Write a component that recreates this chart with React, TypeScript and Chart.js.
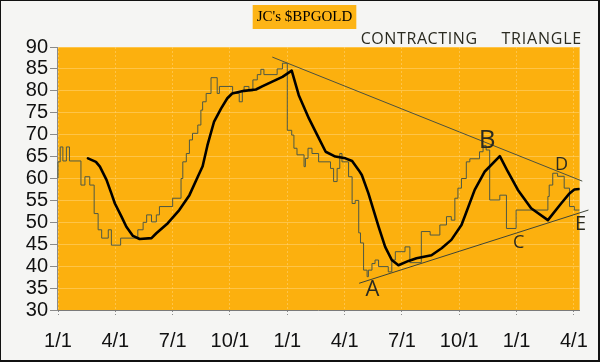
import React, { useEffect, useRef } from 'react';
import { Chart, registerables } from 'chart.js';

Chart.register(...registerables);

// ---- data ----
const titleText = "JC's $BPGOLD";
const tickWeeks = [0, 13, 26, 39, 52, 65, 78, 91, 104, 117];
const tickLabels = ['1/1', '4/1', '7/1', '10/1', '1/1', '4/1', '7/1', '10/1', '1/1', '4/1'];

// weekly step series (x = weeks since first 1/1)
const stepWeeks = [
  0, 0.5, 1.1, 1.9, 2.6, 5.2, 6.1, 7.2, 8.2, 9.1, 9.9, 11.4, 12.1, 14.2, 18.1, 19.3, 20.1, 21.2,
  22.3, 23.0, 26.0, 27.9, 28.3, 29.1, 29.8, 30.5, 31.7, 32.4, 32.8, 33.6, 34.7, 36.1, 36.6, 39.6,
  41.1, 41.8, 42.2, 43.3, 44.2, 45.2, 46.0, 46.7, 49.7, 50.9, 52.0, 53.0, 53.5, 54.2, 55.8, 56.1,
  56.7, 57.6, 59.1, 61.8, 62.5, 63.3, 63.9, 64.4, 65.9, 66.7, 67.4, 68.2, 68.6, 69.3, 70.1, 70.4,
  71.2, 71.9, 72.7, 74.9, 75.7, 76.5, 78.7, 79.8, 82.4, 84.4, 86.6, 88.1, 89.2, 90.0, 90.7, 91.5,
  92.6, 93.4, 95.6, 96.4, 97.1, 97.9, 100.2, 101.7, 103.9, 111.1, 111.4, 112.2, 113.3, 114.8,
  116.0, 117.1, 117.8, 118.3,
];
const stepValues = [
  60.1, 63.8, 67.2, 64, 67.2, 64, 58.5, 60.4, 58.5, 52, 48.3, 46.4, 48.3, 44.8, 46.4, 48.3, 50, 51.7,
  50.1, 51.7, 53.6, 55.5, 60, 63.8, 65.7, 68.8, 70.3, 72.2, 75.6, 77.5, 79.4, 83, 79.4, 81,
  79.4, 77.5, 80, 81, 80, 82.5, 83.7, 84.9, 83.7, 85, 86.3, 71, 69.9, 66.9, 65.4, 62.7,
  64.6, 66.9, 65.7, 63.8, 62.3, 59.3, 62.3, 65.7, 63.8, 60.4, 54.3, 55, 47.6, 45.3, 39.1, 37.6,
  39.1, 40.6, 41.4, 39.9, 38.7, 41.4, 43.3, 44.4, 40.8, 47.9, 47.1, 49.4, 51.3, 50.5, 55.5, 57.8,
  60, 63.8, 64.5, 66.1, 67.5, 66.5, 55.1, 56.2, 48.6, 52.8, 55.9, 58.5, 61.2, 60.5,
  57.8, 53.6, 52.8, 52.8,
];

// moving average
const maWeeks = [
  6.8, 8.6, 9.5, 11.0, 12.1, 12.9, 14.4, 15.5, 17.0, 18.5, 21.2, 22.3, 24.9, 27.5, 29.8, 31.7, 32.8,
  33.9, 35.4, 37.0, 38.4, 39.5, 42.2, 44.9, 46.3, 48.6, 50.9, 53.0, 54.6, 56.9, 58.8, 60.7, 62.9,
  65.2, 66.7, 68.2, 68.9, 70.4, 72.7, 74.2, 75.7, 77.2, 79.5, 81.3, 84.7, 87.0, 89.2, 91.5, 92.3,
  94.5, 96.8, 100.2, 102.0, 104.3, 107.3, 111.1, 114.1, 116.0, 117.1, 118.2,
];
const maValues = [
  64.6, 63.8, 62.7, 59.7, 56.6, 54.3, 51.3, 49, 46.9, 46.2, 46.4, 47.5, 49.8, 52.8, 56.2, 60.4, 62.8,
  67.6, 73, 76, 78.3, 79.4, 80, 80.3, 81, 82.1, 83.2, 84.6, 79, 73.7, 69.9, 66.1, 65,
  64.6, 64, 61.9, 60.8, 56.6, 49, 44.4, 41.4, 40.2, 41.2, 41.8, 42.5, 44.1, 46, 49.4, 51.5,
  57.4, 61.6, 65.1, 61.6, 57.4, 53.2, 50.5, 54.3, 56.6, 57.5, 57.6,
];

// hand-drawn triangle lines
const upperTrendWeeks = [48.6, 118.9];
const upperTrendValues = [87.7, 59.4];
const lowerTrendWeeks = [68.3, 120.3];
const lowerTrendValues = [36.1, 52.8];

// handwritten notes
const noteTexts = ['CONTRACTING', 'TRIANGLE', 'A', 'B', 'C', 'D', 'E'];
const noteWeeks = [81.9, 109.7, 71.3, 97.3, 104.5, 114.2, 118.5];
const noteValues = [91.8, 91.8, 34.6, 68.6, 45.3, 63.1, 49.6];

// ---- styles ----
const noteFontSizes = [16, 16, 22, 26, 18, 18, 20];
const noteSpacing = [0.6, 0.8, 0, 0, 0, 0, 0];
const PAGE_BG = '#F5F5F3';
const PLOT_BG = '#FCB00E';
const GRID = 'rgba(255, 214, 120, 0.55)';
const AXIS_FONT = '"Liberation Sans", Arial, sans-serif';

const decorPlugin = {
  id: 'decor',
  beforeDraw(chart: any) {
    const { ctx, chartArea } = chart;
    ctx.save();
    ctx.fillStyle = PAGE_BG;
    ctx.fillRect(0, 0, chart.width, chart.height);
    ctx.fillStyle = PLOT_BG;
    ctx.fillRect(chartArea.left, chartArea.top, chartArea.right - chartArea.left, chartArea.bottom - chartArea.top);
    ctx.restore();
  },
  afterDraw(chart: any) {
    const { ctx } = chart;
    const xs = chart.scales.x;
    const ys = chart.scales.y;
    ctx.save();
    // notes
    ctx.fillStyle = '#2a2a20';
    ctx.textAlign = 'center';
    ctx.textBaseline = 'middle';
    noteTexts.forEach((t, i) => {
      ctx.font = `${noteFontSizes[i]}px "Open Sans", "DejaVu Sans", sans-serif`;
      (ctx as any).letterSpacing = `${noteSpacing[i]}px`;
      ctx.fillText(t, xs.getPixelForValue(noteWeeks[i]), ys.getPixelForValue(noteValues[i]));
    });
    (ctx as any).letterSpacing = '0px';
    // title box
    ctx.font = '15px "Liberation Serif", "Times New Roman", serif';
    const w = ctx.measureText(titleText).width;
    const cx = 304.5;
    ctx.fillStyle = '#FDB416';
    ctx.fillRect(cx - w / 2 - 4, 5, w + 8, 24);
    ctx.fillStyle = '#000';
    ctx.fillText(titleText, cx, 17.5);
    // outer frame
    ctx.strokeStyle = '#111';
    ctx.lineWidth = 1;
    ctx.strokeRect(0.5, 0.5, chart.width - 1, chart.height - 1);
    ctx.beginPath();
    ctx.moveTo(0, chart.height - 1.5);
    ctx.lineTo(chart.width, chart.height - 1.5);
    ctx.moveTo(chart.width - 1.5, 0);
    ctx.lineTo(chart.width - 1.5, chart.height);
    ctx.stroke();
    ctx.restore();
  },
};

const pts = (xs: number[], ys: number[]) => xs.map((x, i) => ({ x, y: ys[i] }));

export default function App() {
  const ref = useRef<HTMLCanvasElement>(null);
  useEffect(() => {
    document.body.style.margin = '0';
    const canvas = ref.current!;
    const chart = new Chart(canvas, {
      type: 'line',
      data: {
        datasets: [
          {
            label: 'Upper',
            data: pts(upperTrendWeeks, upperTrendValues),
            borderColor: '#4a5040',
            borderWidth: 1,
            pointRadius: 0,
            clip: false,
            order: 3,
          } as any,
          {
            label: 'Lower',
            data: pts(lowerTrendWeeks, lowerTrendValues),
            borderColor: '#3e4436',
            borderWidth: 1,
            pointRadius: 0,
            clip: false,
            order: 3,
          },
          {
            label: '$BPGOLD',
            data: pts(stepWeeks, stepValues),
            stepped: 'after',
            borderColor: '#4d5846',
            borderWidth: 1,
            pointRadius: 0,
            order: 2,
          },
          {
            label: 'Avg',
            data: pts(maWeeks, maValues),
            borderColor: '#000',
            borderWidth: 2.6,
            pointRadius: 0,
            tension: 0,
            borderJoinStyle: 'round',
            borderCapStyle: 'round',
            order: 1,
          },
        ],
      },
      options: {
        responsive: false,
        animation: false,
        devicePixelRatio: 1,
        layout: { padding: { left: 0, top: 47, right: 18, bottom: 0 } },
        plugins: { legend: { display: false }, tooltip: { enabled: false }, title: { display: false } },
        scales: {
          x: {
            type: 'linear',
            min: -0.23,
            max: 118.3,
            afterBuildTicks: (s: any) => {
              s.ticks = tickWeeks.map((v) => ({ value: v }));
            },
            afterFit: (s: any) => {
              s.height = 52;
            },
            ticks: {
              autoSkip: false,
              maxRotation: 0,
              padding: 12,
              color: '#111',
              font: { family: AXIS_FONT, size: 20 },
              callback: (_v: any, i: number) => tickLabels[i],
            },
            grid: { color: GRID, tickColor: '#8a8a8a', tickLength: 7, tickBorderDash: [1, 2] } as any,
            border: { color: '#7a7a7a', dash: [2, 2] },
          },
          y: {
            min: 30,
            max: 90,
            afterFit: (s: any) => {
              s.width = 57;
            },
            ticks: {
              stepSize: 5,
              autoSkip: false,
              padding: 2,
              color: '#111',
              font: { family: AXIS_FONT, size: 20 },
            },
            grid: { color: GRID, tickColor: '#8a8a8a', tickLength: 7 },
            border: { color: '#8a8a8a' },
          },
        },
      },
      plugins: [decorPlugin],
    });
    return () => chart.destroy();
  }, []);
  return (
    <div style={{ position: 'fixed', left: 0, top: 0, width: 600, height: 362 }}>
      <canvas ref={ref} width={600} height={362} style={{ display: 'block', width: 600, height: 362 }} />
    </div>
  );
}
